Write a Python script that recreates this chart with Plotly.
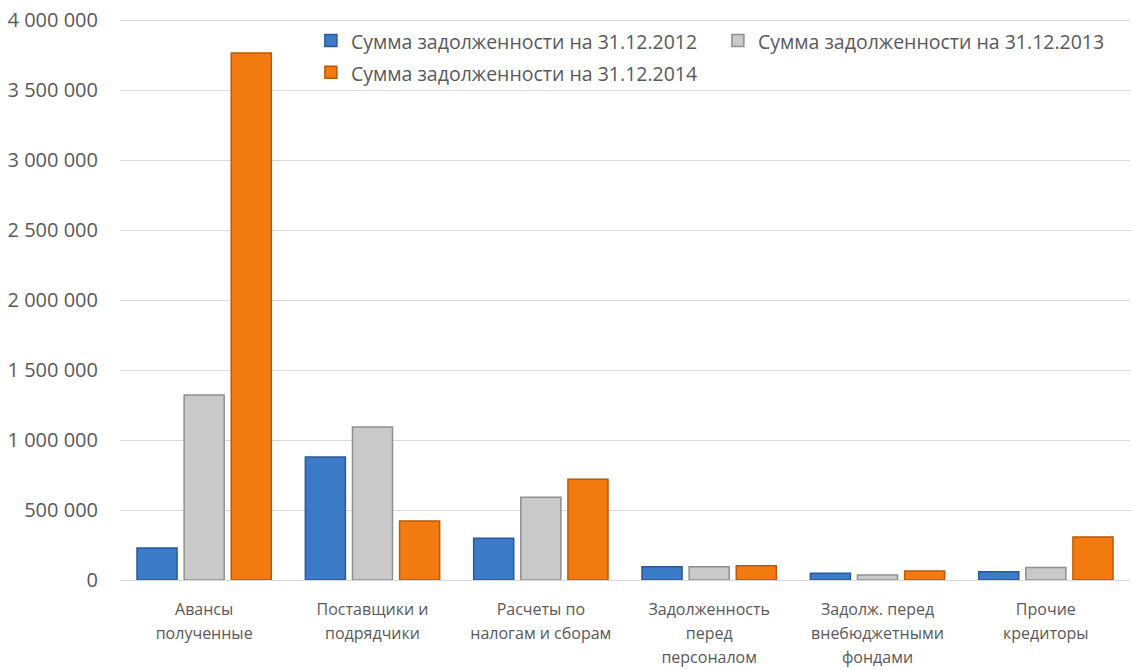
import plotly.graph_objects as go

cat_lines = [["Авансы", "полученные"], ["Поставщики и", "подрядчики"], ["Расчеты по", "налогам и сборам"],
             ["Задолженность", "перед", "персоналом"], ["Задолж. перед", "внебюджетными", "фондами"],
             ["Прочие", "кредиторы"]]
categories = ["<br>".join("<span style='font-size:16px'>%s</span>" % s for s in lines) for lines in cat_lines]
series_names = ["Сумма задолженности на 31.12.2012", "Сумма задолженности на 31.12.2013",
                "Сумма задолженности на 31.12.2014"]
values_2012 = [229000, 879000, 298000, 95000, 48000, 59000]
values_2013 = [1321000, 1093000, 591000, 95000, 36000, 90000]
values_2014 = [3764000, 421000, 719000, 102000, 64000, 307000]
tick_vals = [0, 500000, 1000000, 1500000, 2000000, 2500000, 3000000, 3500000, 4000000]

fills = ["#3b7bc8", "#c9c9c9", "#f27a0f"]
edges = ["#2a5a95", "#8f8f8f", "#b85a06"]

fig = go.Figure()
for name, vals, fc, ec in zip(series_names, [values_2012, values_2013, values_2014], fills, edges):
    fig.add_trace(go.Bar(x=categories, y=vals,
                         name="<span style='font-size:19.5px'>%s</span>" % name,
                         marker=dict(color=fc, line=dict(color=ec, width=1.5))))

fig.update_layout(
    width=1133, height=670,
    margin=dict(l=120, r=3, t=17, b=90, autoexpand=False),
    paper_bgcolor="white", plot_bgcolor="white",
    separators=", ",
    barmode="group", bargap=0.16, bargroupgap=0.15,
    font=dict(family="Open Sans", size=15, color="#595959"),
    legend=dict(orientation="h", x=0.189, y=0.995, xanchor="left", yanchor="top",
                entrywidth=362, entrywidthmode="pixels", traceorder="normal",
                font=dict(family="Open Sans", size=22, color="#595959"),
                bgcolor="rgba(0,0,0,0)", tracegroupgap=0),
    showlegend=True,
)
fig.update_yaxes(range=[0, 4021500], tickvals=tick_vals, tickformat=",d",
                 showgrid=True, gridcolor="#d9d9d9", gridwidth=1, zeroline=False,
                 showline=False, ticks="", ticklabelstandoff=21,
                 tickfont=dict(family="Open Sans", size=20, color="#595959"))
fig.update_xaxes(showline=True, linecolor="#d9d9d9", linewidth=1, ticks="",
                 ticklabelstandoff=12,
                 tickfont=dict(family="Open Sans", size=18.5, color="#595959"))

fig.write_html("out.html", config={"displayModeBar": False},
               post_script="document.body.style.margin='0';")
